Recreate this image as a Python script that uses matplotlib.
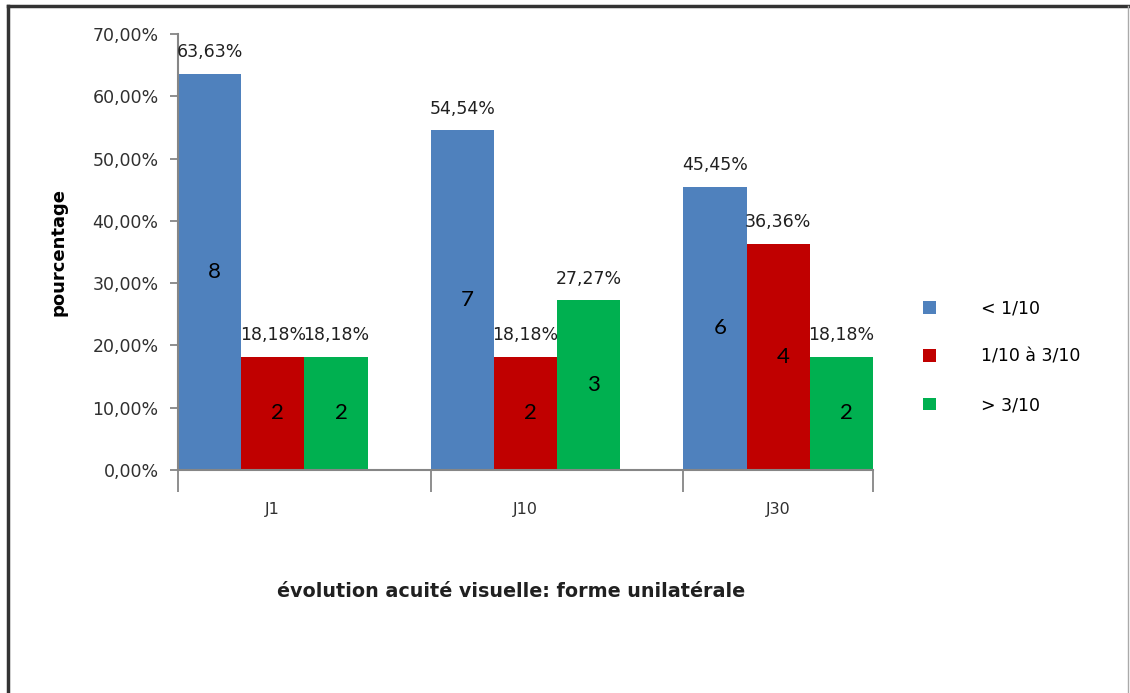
import matplotlib.pyplot as plt
from matplotlib.lines import Line2D
import numpy as np

# days of follow-up and the three visual acuity classes
jours = ['J1', 'J10', 'J30']
classes = ['< 1/10', '1/10 à 3/10', '> 3/10']
couleurs = ['#4F81BD', '#C00000', '#00B050']

# percentage of patients in each class, per day
pct_inf = [63.63, 54.54, 45.45]
pct_mid = [18.18, 18.18, 36.36]
pct_sup = [18.18, 27.27, 18.18]

# number of patients behind each percentage
n_inf = [8, 7, 6]
n_mid = [2, 2, 4]
n_sup = [2, 3, 2]

series = [pct_inf, pct_mid, pct_sup]
effectifs = [n_inf, n_mid, n_sup]

fig = plt.figure(figsize=(11.3, 6.93), dpi=100)
ax = fig.add_axes([0.1575, 0.3218, 0.615, 0.6292])

grey = '#868686'
largeur = 1.0
pas = 4  # three bars plus one empty slot per day
x0 = np.arange(len(jours)) * pas

for i, (vals, nb) in enumerate(zip(series, effectifs)):
    xs = x0 + i * largeur
    bars = ax.bar(xs, vals, width=largeur, align='edge', color=couleurs[i],
                  label=classes[i], zorder=2)
    for b, v, n in zip(bars, vals, nb):
        cx = b.get_x() + b.get_width() / 2
        ax.annotate(f'{v:.2f}%'.replace('.', ','), (cx, v),
                    xytext=(0, 9), textcoords='offset points',
                    ha='center', va='bottom', fontsize=12.5,
                    family='DejaVu Sans', color='#202020')
        ax.text(cx + 0.08, v / 2, str(n), ha='center', va='center',
                fontsize=16, family='Lato', color='black')

ax.set_xlim(0, x0[-1] + 3 * largeur)
ax.set_ylim(0, 70)

# y axis in percent with comma decimals
yt = np.arange(0, 71, 10)
ax.set_yticks(yt)
ax.set_yticklabels([f'{t:.2f}%'.replace('.', ',') for t in yt],
                   fontsize=12.5, family='DejaVu Sans', color='#303030')

# category separators as major ticks, names as minor ticks
ax.set_xticks(list(x0) + [x0[-1] + 3 * largeur])
ax.set_xticklabels([])
ax.set_xticks(x0 + 1.5 * largeur, minor=True)
ax.set_xticklabels(jours, minor=True, fontsize=11.5, family='DejaVu Sans',
                   color='#303030')
ax.tick_params(axis='x', which='major', length=16, width=1.3, color=grey)
ax.tick_params(axis='x', which='minor', length=0, pad=23)
ax.tick_params(axis='y', length=6, width=1.3, color=grey, pad=8)

for s in ['top', 'right']:
    ax.spines[s].set_visible(False)
for s in ['left', 'bottom']:
    ax.spines[s].set_color(grey)
    ax.spines[s].set_linewidth(1.5)

ax.set_ylabel('pourcentage', fontsize=13, fontweight='bold',
              family='DejaVu Sans', labelpad=18)
fig.text(0.452, 0.147, 'évolution acuité visuelle: forme unilatérale',
         ha='center', va='center', fontsize=13.8, fontweight='bold',
         family='DejaVu Sans', color='#202020')

ax.legend(loc='center left', bbox_to_anchor=(1.05, 0.26), frameon=False,
          prop={'family': 'DejaVu Sans', 'size': 12.5},
          handlelength=0.75, handleheight=0.75, handletextpad=2.6,
          labelspacing=1.75)

# frame around the chart area
fig.add_artist(Line2D([0.007, 0.007], [0, 0.992], color='#333333', lw=2.5))
fig.add_artist(Line2D([0.007, 0.9985], [0.992, 0.992], color='#333333', lw=2.5))
fig.add_artist(Line2D([0.9985, 0.9985], [0, 0.992], color='#aaaaaa', lw=1))

fig.savefig('out.png', dpi=100)
